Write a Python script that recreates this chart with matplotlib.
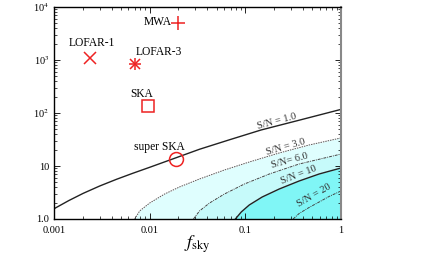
import numpy as np
import matplotlib
matplotlib.use("Agg")
import matplotlib.pyplot as plt
from matplotlib.ticker import FixedLocator, LogLocator, NullFormatter

plt.rcParams['font.family'] = ['Liberation Serif', 'DejaVu Serif']
plt.rcParams['mathtext.fontset'] = 'stix'

# ---- data ----
instruments = ["LOFAR-1", "LOFAR-3", "MWA", "SKA", "super SKA"]
inst_fsky = [0.0024, 0.007, 0.020, 0.0097, 0.019]
inst_val = [1100, 850, 5000, 138, 13.5]

sn1_f = [0.001, 0.00143, 0.00202, 0.00301, 0.0045, 0.00665, 0.01, 0.0182, 0.0332, 0.0681, 0.146, 0.365, 1.0]
sn1_y = [1.56, 2.23, 3.05, 4.2, 5.61, 7.28, 9.45, 13.97, 20.7, 31.2, 47.8, 73.1, 117]
sn3_f = [0.00698, 0.00787, 0.01, 0.01433, 0.0205, 0.0332, 0.0604, 0.110, 0.226, 0.464, 1.0]
sn3_y = [1.0, 1.42, 2.0, 2.96, 4.02, 5.69, 8.4, 11.9, 17.6, 24.9, 33.8]
sn6_f = [0.0287, 0.0332, 0.0422, 0.0604, 0.0977, 0.178, 0.365, 1.0]
sn6_y = [1.0, 1.42, 2.0, 2.96, 4.57, 7.06, 10.9, 16.8]
sn10_f = [0.0787, 0.0908, 0.110, 0.150, 0.226, 0.365, 0.590, 1.0]
sn10_y = [1.0, 1.36, 1.84, 2.6, 3.68, 5.21, 7.06, 9.17]
sn20_f = [0.316, 0.365, 0.464, 0.590, 0.75, 1.0]
sn20_y = [1.0, 1.27, 1.65, 2.09, 2.66, 3.38]
sn_labels = ["S/N = 1.0", "S/N = 3.0", "S/N= 6.0", "S/N = 10", "S/N = 20"]

xticks = [0.001, 0.01, 0.1, 1]
xticklabels = ["0.001", "0.01", "0.1", "1"]
yticks = [1, 10, 100, 1000, 10000]
yticklabels = ["1.0", "10", r"10$^2$", r"10$^3$", r"10$^4$"]

# ---- figure ----
fig = plt.figure(figsize=(4.22, 2.57), dpi=100)
ax = fig.add_axes([54/422, 38/257, 287/422, 212/257])
ax.set_xscale('log')
ax.set_yscale('log')
ax.set_xlim(0.001, 1)
ax.set_ylim(1, 10000)

c_light = '#dffefe'
c_mid = '#c6fafa'
c_dark = '#80f6f6'
ax.fill_between(sn3_f, sn3_y, 1, color=c_light, lw=0)
ax.fill_between(sn6_f, sn6_y, 1, color=c_mid, lw=0)
ax.fill_between(sn10_f, sn10_y, 1, color=c_dark, lw=0)

ax.plot(sn1_f, sn1_y, color='#222222', lw=1.0)
ax.plot(sn3_f, sn3_y, color='#555555', lw=0.7, ls=(0, (1.5, 1)))
ax.plot(sn6_f, sn6_y, color='#444444', lw=0.7, ls=(0, (3, 1, 1, 1)))
ax.plot(sn10_f, sn10_y, color='#222222', lw=1.0)
ax.plot(sn20_f, sn20_y, color='#444444', lw=0.7, ls=(0, (3, 1, 1, 1)))

red = '#ee2222'
ax.plot(inst_fsky[0], inst_val[0], 'x', color=red, ms=8, mew=1.1)
ax.plot(inst_fsky[1], inst_val[1], 'x', color=red, ms=7, mew=1.1)
ax.plot(inst_fsky[1], inst_val[1], '+', color=red, ms=8, mew=1.1)
ax.plot(inst_fsky[2], inst_val[2], '+', color=red, ms=10, mew=1.1)
ax.plot(inst_fsky[3], inst_val[3], 's', mfc='none', mec=red, ms=8, mew=1.1)
ax.plot(inst_fsky[4], inst_val[4], 'o', mfc='none', mec=red, ms=10, mew=1.1)

def axfrac(px, py):
    return (px - 54) / 287, (219 - py) / 212

fs = 8.3
for name, (px, py), ha in zip(instruments,
                              [(92, 43), (159, 52), (172, 22), (142, 94), (159, 147)],
                              ['center', 'center', 'right', 'center', 'center']):
    x, y = axfrac(px, py)
    ax.text(x, y, name, transform=ax.transAxes, ha=ha, va='center', fontsize=fs)

for lab, (px, py), rot in zip(sn_labels,
                              [(277, 121), (286, 147), (290, 161), (299, 175), (314, 195)],
                              [15, 16, 15, 21, 30]):
    x, y = axfrac(px, py)
    ax.text(x, y, lab, transform=ax.transAxes, ha='center', va='center',
            fontsize=7.5, rotation=rot, color='#333333')

ax.xaxis.set_major_locator(FixedLocator(xticks))
ax.set_xticklabels(xticklabels)
ax.yaxis.set_major_locator(FixedLocator(yticks))
ax.set_yticklabels(yticklabels)
ax.xaxis.set_minor_locator(LogLocator(base=10, subs=np.arange(2, 10)))
ax.yaxis.set_minor_locator(LogLocator(base=10, subs=np.arange(2, 10)))
ax.xaxis.set_minor_formatter(NullFormatter())
ax.yaxis.set_minor_formatter(NullFormatter())
ax.tick_params(which='both', direction='in', top=True, right=True, labelsize=7.5)
ax.tick_params(which='major', length=4, width=0.6)
ax.tick_params(which='minor', length=2, width=0.5)
ax.tick_params(axis='x', pad=5)
for s in ax.spines.values():
    s.set_linewidth(1.0)
ax.spines['right'].set_color('#888888')
ax.spines['right'].set_linewidth(1.5)

ax.set_xlabel(r'$f_{\rm sky}$', fontsize=13, labelpad=-1)

fig.savefig('out.png', dpi=100)
